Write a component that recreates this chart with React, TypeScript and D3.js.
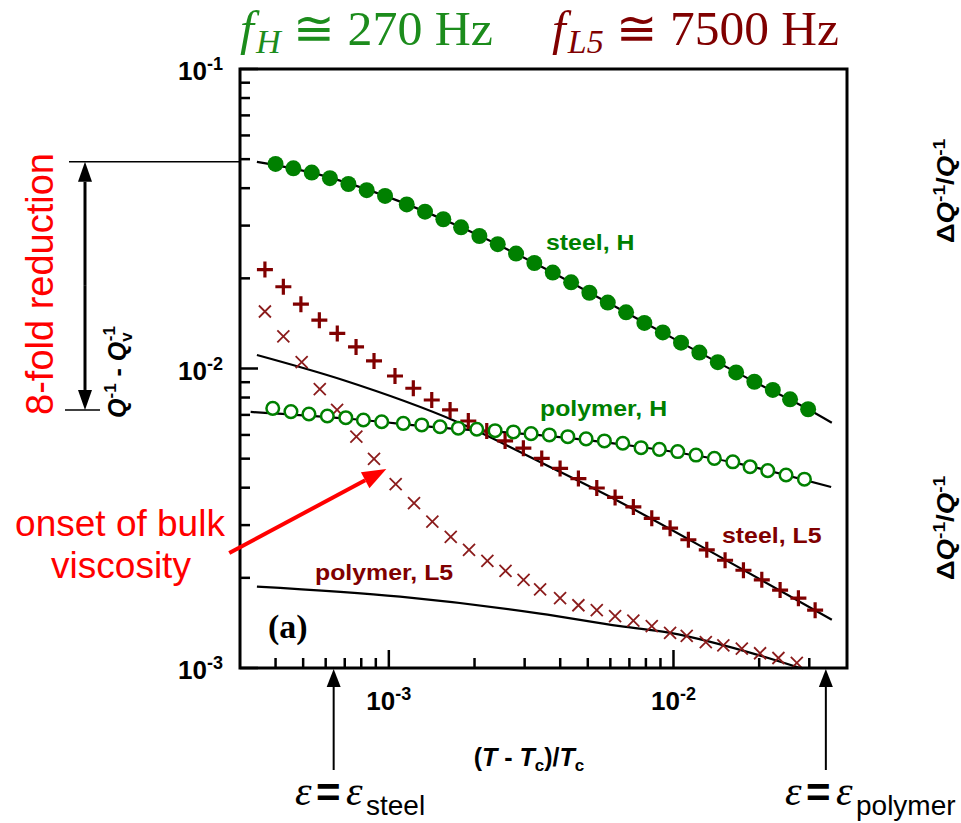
import React from 'react';
import * as d3 from 'd3';

// reduced temperature (T - Tc)/Tc and Q^-1 - Qv^-1
const steelHX = [4.00e-4, 4.62e-4, 5.36e-4, 6.21e-4, 7.21e-4, 8.36e-4, 9.70e-4, 1.156e-3, 1.340e-3, 1.554e-3, 1.794e-3, 2.080e-3, 2.413e-3, 2.799e-3, 3.245e-3, 3.766e-3, 4.369e-3, 5.065e-3, 5.877e-3, 6.815e-3, 7.901e-3, 9.172e-3, 1.063e-2, 1.233e-2, 1.431e-2, 1.66e-2, 1.924e-2, 2.233e-2, 2.568e-2, 2.972e-2];
const steelHY = [4.82e-2, 4.66e-2, 4.51e-2, 4.32e-2, 4.13e-2, 3.94e-2, 3.77e-2, 3.53e-2, 3.34e-2, 3.15e-2, 2.96e-2, 2.77e-2, 2.60e-2, 2.42e-2, 2.25e-2, 2.09e-2, 1.94e-2, 1.79e-2, 1.66e-2, 1.54e-2, 1.42e-2, 1.32e-2, 1.22e-2, 1.13e-2, 1.05e-2, 9.70e-3, 9.03e-3, 8.48e-3, 7.89e-3, 7.31e-3];

const polymerHX = [3.91e-4, 4.53e-4, 5.24e-4, 6.08e-4, 7.06e-4, 8.14e-4, 9.44e-4, 1.124e-3, 1.305e-3, 1.513e-3, 1.754e-3, 2.037e-3, 2.362e-3, 2.739e-3, 3.160e-3, 3.664e-3, 4.254e-3, 4.931e-3, 5.718e-3, 6.635e-3, 7.693e-3, 8.923e-3, 1.035e-2, 1.20e-2, 1.392e-2, 1.616e-2, 1.858e-2, 2.144e-2, 2.486e-2, 2.884e-2];
const polymerHY = [7.36e-3, 7.18e-3, 7.05e-3, 6.94e-3, 6.85e-3, 6.73e-3, 6.64e-3, 6.56e-3, 6.48e-3, 6.39e-3, 6.32e-3, 6.27e-3, 6.20e-3, 6.14e-3, 6.06e-3, 6.00e-3, 5.92e-3, 5.82e-3, 5.73e-3, 5.63e-3, 5.44e-3, 5.37e-3, 5.28e-3, 5.14e-3, 5.01e-3, 4.88e-3, 4.70e-3, 4.56e-3, 4.41e-3, 4.27e-3];

const steelL5X = [3.67e-4, 4.26e-4, 4.91e-4, 5.70e-4, 6.59e-4, 7.67e-4, 8.87e-4, 1.051e-3, 1.219e-3, 1.415e-3, 1.641e-3, 1.902e-3, 2.208e-3, 2.561e-3, 2.969e-3, 3.445e-3, 3.996e-3, 4.634e-3, 5.377e-3, 6.235e-3, 7.228e-3, 8.389e-3, 9.730e-3, 1.128e-2, 1.309e-2, 1.518e-2, 1.761e-2, 2.043e-2, 2.369e-2, 2.747e-2, 3.145e-2];
const steelL5Y = [2.14e-2, 1.875e-2, 1.64e-2, 1.45e-2, 1.31e-2, 1.18e-2, 1.06e-2, 9.44e-3, 8.59e-3, 7.85e-3, 7.27e-3, 6.68e-3, 6.18e-3, 5.73e-3, 5.42e-3, 5.01e-3, 4.64e-3, 4.29e-3, 3.99e-3, 3.71e-3, 3.45e-3, 3.16e-3, 2.93e-3, 2.68e-3, 2.48e-3, 2.29e-3, 2.12e-3, 1.97e-3, 1.82e-3, 1.71e-3, 1.56e-3];

const polymerL5X = [3.67e-4, 4.26e-4, 4.94e-4, 5.72e-4, 6.58e-4, 7.69e-4, 8.87e-4, 1.057e-3, 1.226e-3, 1.422e-3, 1.650e-3, 1.913e-3, 2.219e-3, 2.570e-3, 2.974e-3, 3.40e-3, 3.996e-3, 4.634e-3, 5.377e-3, 6.235e-3, 7.228e-3, 8.389e-3, 9.730e-3, 1.113e-2, 1.299e-2, 1.497e-2, 1.738e-2, 2.015e-2, 2.337e-2, 2.712e-2];
const polymerL5Y = [1.55e-2, 1.28e-2, 1.05e-2, 8.54e-3, 7.27e-3, 5.92e-3, 4.99e-3, 4.11e-3, 3.55e-3, 3.08e-3, 2.74e-3, 2.48e-3, 2.28e-3, 2.11e-3, 1.97e-3, 1.83e-3, 1.71e-3, 1.62e-3, 1.56e-3, 1.49e-3, 1.44e-3, 1.38e-3, 1.31e-3, 1.28e-3, 1.22e-3, 1.19e-3, 1.16e-3, 1.12e-3, 1.08e-3, 1.04e-3];

// fitted curves (black lines)
const fitSteelHX = [3.44e-4, 5.36e-4, 9.70e-4, 1.794e-3, 3.245e-3, 5.877e-3, 1.063e-2, 1.924e-2, 2.972e-2, 3.60e-2];
const fitSteelHY = [4.90e-2, 4.51e-2, 3.77e-2, 2.96e-2, 2.25e-2, 1.66e-2, 1.22e-2, 9.03e-3, 7.31e-3, 6.59e-3];
const fitPolymerHX = [3.27e-4, 7.02e-4, 1.513e-3, 3.68e-3, 7.68e-3, 1.60e-2, 3.58e-2];
const fitPolymerHY = [7.16e-3, 6.81e-3, 6.35e-3, 5.95e-3, 5.47e-3, 4.87e-3, 4.02e-3];
const fitSteelL5X = [3.44e-4, 6.90e-4, 1.732e-3, 3.685e-3, 6.285e-3, 1.458e-2, 3.60e-2];
const fitSteelL5Y = [1.109e-2, 9.15e-3, 6.64e-3, 4.69e-3, 3.64e-3, 2.35e-3, 1.45e-3];
const fitPolymerL5X = [3.44e-4, 1.095e-3, 3.40e-3, 6.49e-3, 9.73e-3, 2.017e-2, 2.785e-2];
const fitPolymerL5Y = [1.87e-3, 1.73e-3, 1.52e-3, 1.38e-3, 1.31e-3, 1.10e-3, 1.00e-3];

// axes
const xDomain = [3.0e-4, 4.07e-2];
const yDomain = [1e-3, 1e-1];
const xMajor = [1e-3, 1e-2];
const xMajorLabels = ['-3', '-2'];
const yMajor = [1e-3, 1e-2, 1e-1];
const yMajorLabels = ['-3', '-2', '-1'];

// annotation anchors, in data units
const epsSteel = 6.4e-4;
const epsPolymer = 3.43e-2;
const reductionTop = 4.90e-2;
const reductionBottom = 7.27e-3;
const onsetTip = [9.8e-4, 4.62e-3];
const onsetTail = [2.75e-4, 2.42e-3];

const W = 961, H = 823;
const box = { left: 240, right: 847, top: 69, bottom: 668 };
const SANS = 'Liberation Sans, Arial, sans-serif';
const SERIF = 'Liberation Serif, Times New Roman, serif';
const GREEN = '#008000';
const TITLE_GREEN = '#1c8c1c';
const DARKRED = '#800000';
const XRED = '#8b1c1c';
const RED = '#ff0000';

function head(x1: number, y1: number, x2: number, y2: number, len: number, hw: number) {
  const a = Math.atan2(y2 - y1, x2 - x1);
  const bx = x2 - len * Math.cos(a), by = y2 - len * Math.sin(a);
  const px = -Math.sin(a) * hw, py = Math.cos(a) * hw;
  return { pts: `${x2},${y2} ${bx + px},${by + py} ${bx - px},${by - py}`, bx, by };
}

function Arrow({ x1, y1, x2, y2, len, hw, color, width }: any) {
  const h = head(x1, y1, x2, y2, len, hw);
  return (
    <g>
      <line x1={x1} y1={y1} x2={h.bx} y2={h.by} stroke={color} strokeWidth={width} />
      <polygon points={h.pts} fill={color} />
    </g>
  );
}

// labels in the original are a little wider than the font, so stretch them
function Label({ x, y, sx, color, children }: any) {
  return (
    <text transform={`translate(${x},${y}) scale(${sx},1)`} fontFamily={SANS} fontWeight="bold" fontSize={22} fill={color}>
      {children}
    </text>
  );
}

export default function App() {
  const x = d3.scaleLog().domain(xDomain).range([box.left, box.right]);
  const y = d3.scaleLog().domain(yDomain).range([box.bottom, box.top]);
  const zip = (xs: number[], ys: number[]) => xs.map((v, i) => [v, ys[i]] as [number, number]);
  const line = d3.line<[number, number]>().x(d => x(d[0])).y(d => y(d[1])).curve(d3.curveMonotoneX);
  const isMajor = (t: number) => Math.abs(Math.log10(t) - Math.round(Math.log10(t))) < 1e-6;
  const xMinor = x.ticks().filter(t => !isMajor(t) && x(t) > box.left + 4 && x(t) < box.right - 6);
  const yMinor = y.ticks().filter(t => !isMajor(t));

  const fits = [zip(fitSteelHX, fitSteelHY), zip(fitPolymerHX, fitPolymerHY), zip(fitSteelL5X, fitSteelL5Y), zip(fitPolymerL5X, fitPolymerL5Y)];
  const yTop = y(reductionTop), yBot = y(reductionBottom);

  return (
    <svg width={W} height={H} style={{ position: 'absolute', left: 0, top: 0, background: '#fff' }}>
      <defs>
        <clipPath id="plot">
          <rect x={box.left} y={box.top} width={box.right - box.left} height={box.bottom - box.top} />
        </clipPath>
      </defs>

      {/* title */}
      <text transform="translate(240,45) scale(1.04,1)" fontFamily={SERIF} fontSize={48} fill={TITLE_GREEN} style={{ whiteSpace: 'pre' }}>
        <tspan fontStyle="italic">f</tspan>
        <tspan fontStyle="italic" fontSize={33} dy={8} dx={2}>H</tspan>
        <tspan dy={-8}>{' \u2245 270 Hz'}</tspan>
      </text>
      <text transform="translate(552,45) scale(1.03,1)" fontFamily={SERIF} fontSize={48} fill={DARKRED} style={{ whiteSpace: 'pre' }}>
        <tspan fontStyle="italic">f</tspan>
        <tspan fontStyle="italic" fontSize={33} dy={8} dx={2}>L5</tspan>
        <tspan dy={-8}>{' \u2245 7500 Hz'}</tspan>
      </text>

      {/* fitted lines */}
      <g clipPath="url(#plot)">
        {fits.map((f, i) => (
          <path key={i} d={line(f) || ''} fill="none" stroke="#000" strokeWidth={2.2} />
        ))}
      </g>

      {/* polymer, L5 crosses */}
      {zip(polymerL5X, polymerL5Y).map((d, i) => {
        const cx = x(d[0]), cy = y(d[1]);
        return <path key={'x' + i} d={`M${cx - 6},${cy - 6}L${cx + 6},${cy + 6}M${cx - 6},${cy + 6}L${cx + 6},${cy - 6}`} stroke={XRED} strokeWidth={1.8} />;
      })}
      {/* steel, L5 pluses */}
      {zip(steelL5X, steelL5Y).map((d, i) => {
        const cx = x(d[0]), cy = y(d[1]);
        return <path key={'p' + i} d={`M${cx - 8},${cy}H${cx + 8}M${cx},${cy - 8}V${cy + 8}`} stroke={DARKRED} strokeWidth={3.2} />;
      })}
      {/* steel, H filled circles */}
      {zip(steelHX, steelHY).map((d, i) => (
        <circle key={'f' + i} cx={x(d[0])} cy={y(d[1])} r={8} fill={GREEN} />
      ))}
      {/* polymer, H open circles */}
      {zip(polymerHX, polymerHY).map((d, i) => (
        <circle key={'o' + i} cx={x(d[0])} cy={y(d[1])} r={6.3} fill="#fff" stroke={GREEN} strokeWidth={2.5} />
      ))}

      {/* frame and ticks */}
      <rect x={box.left} y={box.top} width={box.right - box.left} height={box.bottom - box.top} fill="none" stroke="#000" strokeWidth={3} />
      {xMajor.map(t => <line key={'xm' + t} x1={x(t)} x2={x(t)} y1={box.bottom} y2={box.bottom - 18} stroke="#000" strokeWidth={2.5} />)}
      {xMinor.map(t => <line key={'xn' + t} x1={x(t)} x2={x(t)} y1={box.bottom} y2={box.bottom - 10} stroke="#000" strokeWidth={2.5} />)}
      {yMajor.map(t => <line key={'ym' + t} x1={box.left} x2={box.left + 18} y1={y(t)} y2={y(t)} stroke="#000" strokeWidth={2.5} />)}
      {yMinor.map(t => <line key={'yn' + t} x1={box.left} x2={box.left + 10} y1={y(t)} y2={y(t)} stroke="#000" strokeWidth={2.5} />)}

      {/* tick labels */}
      {yMajor.map((t, i) => (
        <text key={'yl' + t} x={223} y={y(t) + 11} textAnchor="end" fontFamily={SANS} fontWeight="bold" fontSize={26} fill="#000">
          <tspan>10</tspan>
          <tspan fontSize={18} dy={-10}>{yMajorLabels[i]}</tspan>
        </text>
      ))}
      {xMajor.map((t, i) => (
        <text key={'xl' + t} x={x(t)} y={710} textAnchor="middle" fontFamily={SANS} fontWeight="bold" fontSize={26} fill="#000">
          <tspan>10</tspan>
          <tspan fontSize={18} dy={-10}>{xMajorLabels[i]}</tspan>
        </text>
      ))}

      {/* axis titles */}
      <text x={529} y={766} textAnchor="middle" fontFamily={SANS} fontWeight="bold" fontSize={25} fill="#000" style={{ whiteSpace: 'pre' }}>
        <tspan>(</tspan>
        <tspan fontStyle="italic">T</tspan>
        <tspan>{' - '}</tspan>
        <tspan fontStyle="italic">T</tspan>
        <tspan fontSize={17} dy={5}>c</tspan>
        <tspan dy={-5}>)/</tspan>
        <tspan fontStyle="italic">T</tspan>
        <tspan fontSize={17} dy={5}>c</tspan>
      </text>
      <text transform={`translate(126,372) rotate(-90)`} textAnchor="middle" fontFamily={SANS} fontWeight="bold" fontSize={25} fill="#000" style={{ whiteSpace: 'pre' }}>
        <tspan fontStyle="italic">Q</tspan>
        <tspan fontSize={17} dy={-10}>-1</tspan>
        <tspan dy={10}>{' - '}</tspan>
        <tspan fontStyle="italic">Q</tspan>
        <tspan fontSize={17} dy={6}>v</tspan>
        <tspan fontSize={17} dx={-9} dy={-17}>-1</tspan>
      </text>
      {[191, 528].map(cy => (
        <text key={'r' + cy} transform={`translate(954,${cy}) rotate(-90) scale(1.2,1)`} textAnchor="middle" fontFamily={SANS} fontWeight="bold" fontSize={23} fill="#000">
          <tspan>{'\u0394'}</tspan>
          <tspan fontStyle="italic">Q</tspan>
          <tspan fontSize={16} dy={-9}>-1</tspan>
          <tspan dy={9}>/</tspan>
          <tspan fontStyle="italic">Q</tspan>
          <tspan fontSize={16} dy={-9}>-1</tspan>
        </text>
      ))}

      {/* series labels */}
      <Label x={546} y={250} sx={1.13} color={GREEN}>steel, H</Label>
      <Label x={540} y={416} sx={1.13} color={GREEN}>polymer, H</Label>
      <Label x={722} y={543} sx={1.13} color={DARKRED}>steel, L5</Label>
      <Label x={315} y={580} sx={1.13} color={DARKRED}>polymer, L5</Label>
      <text x={268} y={638} fontFamily={SERIF} fontWeight="bold" fontSize={34} fill="#000">(a)</text>

      {/* 8-fold reduction */}
      <text transform={`translate(53,284) rotate(-90)`} textAnchor="middle" fontFamily={SANS} fontSize={38} fill={RED}>8-fold reduction</text>
      <line x1={69} x2={box.left} y1={yTop} y2={yTop} stroke="#000" strokeWidth={1.5} />
      <line x1={65} x2={100} y1={yBot} y2={yBot} stroke="#000" strokeWidth={1.5} />
      <Arrow x1={85} y1={(yTop + yBot) / 2} x2={85} y2={yTop} len={20} hw={7} color="#000" width={3} />
      <Arrow x1={85} y1={(yTop + yBot) / 2} x2={85} y2={yBot} len={20} hw={7} color="#000" width={3} />

      {/* onset of bulk viscosity */}
      <text x={120} y={536} textAnchor="middle" fontFamily={SANS} fontSize={37} fill={RED}>onset of bulk</text>
      <text x={121} y={578} textAnchor="middle" fontFamily={SANS} fontSize={37} fill={RED}>viscosity</text>
      <Arrow x1={x(onsetTail[0])} y1={y(onsetTail[1])} x2={x(onsetTip[0])} y2={y(onsetTip[1])} len={24} hw={9} color={RED} width={4} />

      {/* epsilon markers */}
      {[epsSteel, epsPolymer].map(e => (
        <Arrow key={'e' + e} x1={x(e)} y1={770} x2={x(e)} y2={box.bottom + 1} len={18} hw={7} color="#000" width={2} />
      ))}
      {[{ x0: 295, sub: 'steel' }, { x0: 785, sub: 'polymer' }].map(l => (
        <g key={l.sub}>
          <text x={l.x0} y={805} fontFamily={SERIF} fontStyle="italic" fontSize={42} fill="#000">{'\u03b5'}</text>
          <text x={l.x0 + 21} y={807} fontFamily={SANS} fontWeight="bold" fontSize={42} fill="#000">=</text>
          <text x={l.x0 + 51} y={805} fontFamily={SERIF} fontStyle="italic" fontSize={42} fill="#000">{'\u03b5'}</text>
          <text x={l.x0 + 71} y={815} fontFamily={SANS} fontSize={28} fill="#000">{l.sub}</text>
        </g>
      ))}
    </svg>
  );
}
